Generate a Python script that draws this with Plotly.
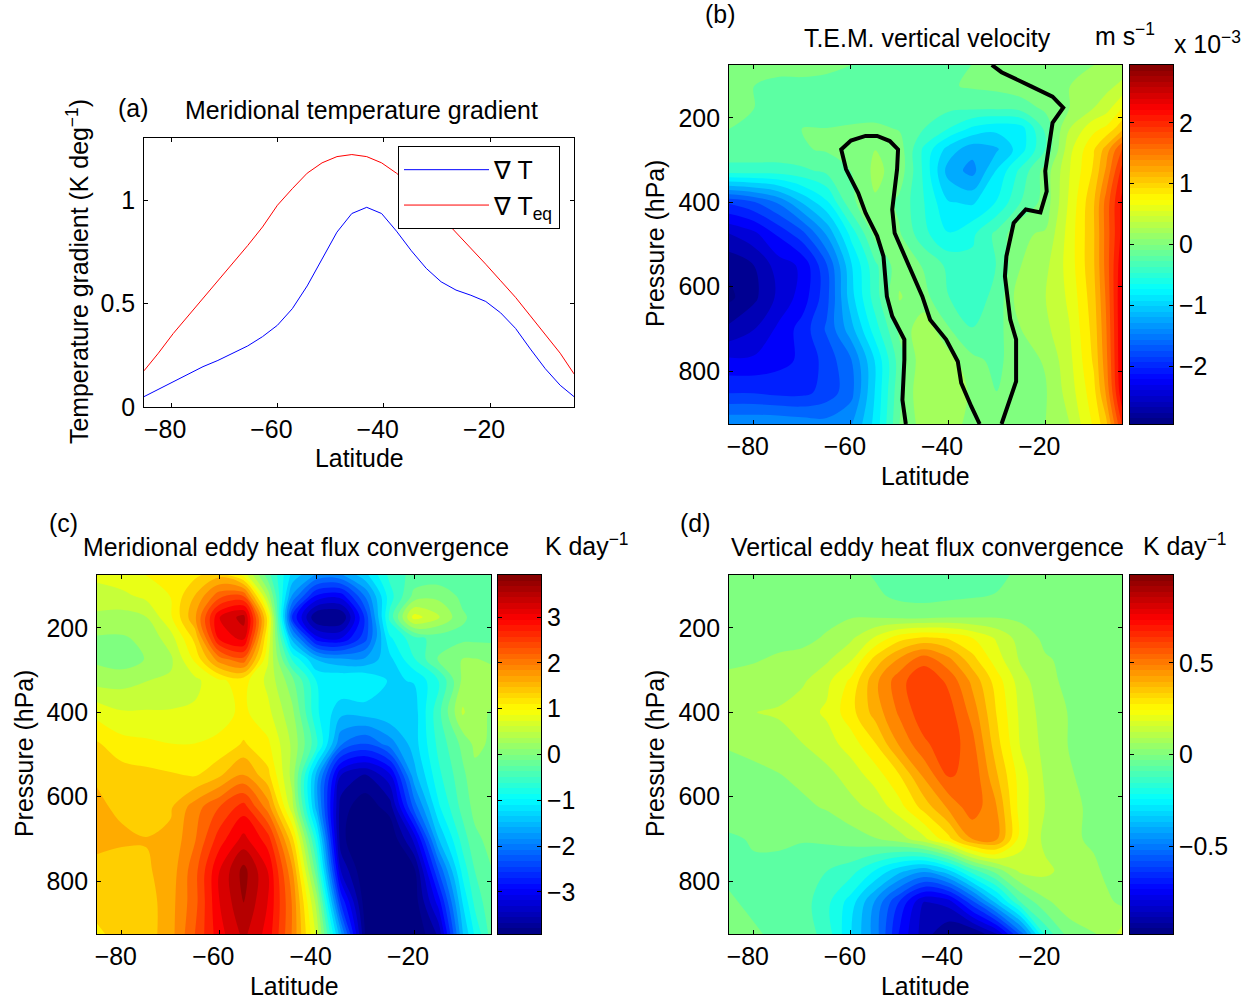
import plotly.graph_objects as go
import numpy as np

W, H = 1255, 1004
FONT = "Liberation Sans"
FS = 24.9

# ---------- panel (a) ----------
lat_a = [-85.1,-82.4,-79.6,-76.8,-74,-71.2,-68.4,-65.6,-62.8,-60,-57.2,-54.4,-51.6,-48.8,-46,-43.2,-40.4,-37.6,-34.8,-32,-29.2,-26.4,-23.6,-20.8,-18,-15.2,-12.4,-9.6,-6.8,-4.2]
grad_t = [.05,.085,.12,.16,.195,.225,.26,.295,.34,.395,.475,.585,.715,.845,.935,.965,.935,.85,.755,.67,.605,.565,.54,.51,.455,.38,.28,.185,.105,.05]
grad_teq = [.175,.26,.355,.44,.525,.61,.69,.78,.87,.975,1.055,1.13,1.18,1.21,1.22,1.21,1.18,1.13,1.07,.99,.92,.845,.77,.69,.61,.53,.44,.35,.26,.16]

# ---------- shared grid of the latitude-pressure panels ----------
lats = [-85.1,-80,-75,-70,-65,-60,-55,-50,-45,-40,-35,-30,-25,-20,-15,-10,-7.5,-4.2]
pres = [75,125,175,225,275,325,400,475,550,625,700,775,850,925]

# ---------- panel (b), 1e-3 m/s ----------
w_tem = [
[-.05,-.05,.03,.03,-.03,-.1,-.15,-.2,-.2,-.15,-.1,-.03,.04,.06,.08,.1,.15,.2],
[-.08,-.1,-.2,-.2,-.2,-.22,-.3,-.3,-.2,-.12,-.08,-.05,.01,.05,.1,.18,.25,.35],
[-.08,-.1,-.15,-.22,-.2,-.2,-.22,-.2,-.25,-.25,-.25,-.25,-.2,-.05,.1,.3,.4,.7],
[-.1,-.12,-.12,-.1,-.1,-.08,-.06,-.12,-.3,-.5,-.75,-.85,-.8,-.25,.3,.65,.75,1.05],
[-.15,-.15,-.15,-.12,-.08,.03,.1,.0,-.55,-1.0,-1.25,-1.15,-.8,-.3,.45,.9,1.2,1.75],
[-.4,-.4,-.4,-.35,-.25,-.1,.15,.02,-.55,-1.2,-1.4,-.9,-.45,-.02,.5,.95,1.35,2.0],
[-1.9,-1.75,-1.5,-1.1,-.75,-.15,.08,-.15,-.5,-.9,-.95,-.7,-.3,-.02,.55,1.1,1.6,2.2],
[-2.55,-2.4,-2.1,-1.8,-1.3,-.65,-.03,-.08,-.45,-.7,-.55,-.25,.08,.12,.6,1.1,1.6,2.2],
[-2.9,-2.75,-2.45,-2.3,-1.75,-.95,-.35,.03,-.12,-.35,-.45,-.3,.1,.25,.6,1.1,1.6,2.3],
[-3,-2.8,-2.5,-2.25,-1.8,-1.0,-.4,.12,-.03,-.3,-.4,-.25,.25,.3,.55,1.05,1.55,2.35],
[-2.7,-2.55,-2.3,-2.05,-1.7,-1.2,-.6,-.05,.25,-.08,-.3,-.18,.1,.25,.5,1.0,1.5,2.35],
[-2.3,-2.3,-2.2,-2.1,-1.85,-1.55,-.9,-.2,.25,.2,-.05,-.15,.02,.12,.45,.95,1.45,2.35],
[-1.95,-1.95,-2,-2,-1.85,-1.6,-.9,-.15,.3,.3,.05,-.1,.02,.08,.4,.85,1.35,2.3],
[-1.35,-1.35,-1.35,-1.4,-1.45,-1.35,-.85,-.1,.2,.2,.03,-.05,.05,.1,.3,.75,1.05,1.95],
]
# zero contour of w
zero_a_lat = [-48.7,-49.4,-49,-49,-51.5,-52.6,-53.3,-54.6,-57,-58.5,-61,-62,-60,-57,-54.6,-52,-50.3,-50.5,-51.5,-51,-48,-45.3,-43.7,-40.4,-38,-37.3,-35.2,-33.5]
zero_a_p = [925,868,773,725,670,623,528,480,425,378,322,275,254,243,243,255,275,322,417,473,552,623,678,725,777,828,884,925]
zero_b_lat = [-31,-29,-23,-18.5,-16.3,-18.5,-20,-19.7,-21,-24,-26.5,-28,-28.3,-27.2,-26,-26,-29]
zero_b_p = [75,92,125,150,176,212,326,374,424,417,449,528,575,678,725,824,925]

# ---------- panel (c), K/day ----------
merid = [
[.75,.85,.95,1.05,1.15,1.4,.85,-.3,-1.3,-1.8,-1.8,-1.3,-.6,-.3,-.3,-.3,-.25,-.2],
[.55,.6,.75,.95,1.5,2.2,2.3,.3,-1.8,-2.9,-3.0,-2.0,-.8,-.05,.05,-.2,-.2,-.2],
[.35,.3,.4,.9,1.7,3.1,3.5,1.1,-2.6,-3.95,-3.95,-2.5,-.6,.8,.45,-.1,-.2,-.2],
[.1,.1,.2,.55,1.3,2.9,3.2,.9,-1.6,-3.0,-3.1,-2.4,-1.0,-.5,-.3,-.2,-.2,-.2],
[.08,-.01,.15,.35,1.0,1.9,2.2,.7,-.7,-1.5,-1.7,-1.7,-1.3,-.7,-.1,.15,.15,.1],
[.3,.3,.4,.45,.6,.9,1.05,.6,-.05,-.95,-.95,-.95,-1.25,-1.2,-.7,.2,.4,.25],
[.85,.7,.7,.7,.72,.85,1.0,.75,.2,-.9,-1.4,-1.35,-1.25,-1.35,-.5,.45,.2,.12],
[1.25,1.05,1.0,.95,.95,1.0,1.25,1.0,.35,-.6,-2.0,-2.3,-1.9,-1.35,-.6,-.05,.2,.1],
[1.45,1.35,1.3,1.25,1.2,1.45,1.8,1.3,.3,-1.6,-3.4,-3.7,-3.2,-1.6,-.75,-.2,.05,.05],
[1.55,1.42,1.3,1.45,1.9,2.3,2.7,1.9,.5,-1.6,-3.8,-4.1,-3.8,-2.2,-1.0,-.3,-.05,0],
[1.55,1.55,1.5,1.55,2.0,2.7,3.2,2.7,1.3,-.85,-3.85,-4.2,-4.2,-3.3,-1.5,-.55,-.2,-.05],
[1.42,1.3,1.45,1.6,2.2,3.1,3.75,3.1,1.8,-.3,-3.4,-4.2,-4.3,-4,-2.3,-.85,-.4,-.15],
[1.25,1.25,1.35,1.65,2.2,3.1,3.65,3.1,2.0,.3,-2.6,-4.1,-4.3,-4.1,-3.0,-1.2,-.6,-.2],
[1.2,1.25,1.35,1.65,2.3,3.0,3.45,3.0,2.0,.6,-1.7,-3.95,-4.2,-4.2,-3.6,-1.5,-.9,-.3],
]

# ---------- panel (d), K/day ----------
vert = [
[0,0,0,0,0,-.01,-.04,-.06,-.08,-.06,-.05,-.05,-.02,0,0,0,0,0],
[0,0,0,0,0,.02,-.02,-.05,-.06,-.05,-.04,-.03,0,0,0,0,0,0],
[0,0,0,.01,.02,.03,.03,.02,.02,.03,.03,.03,.02,0,0,0,0,0],
[0,.01,.02,.02,.04,.09,.18,.28,.32,.3,.24,.16,.07,.02,.01,0,0,0],
[.02,.03,.04,.05,.09,.16,.33,.45,.55,.46,.33,.2,.09,.04,.02,.01,0,0],
[.05,.05,.06,.09,.15,.25,.42,.55,.63,.56,.42,.27,.13,.05,.02,.01,0,0],
[.08,.1,.11,.14,.18,.28,.4,.52,.62,.61,.48,.3,.15,.07,.03,.01,0,0],
[.04,.05,.07,.1,.14,.2,.3,.45,.56,.62,.53,.33,.16,.08,.03,.01,0,0],
[.01,.02,.03,.05,.08,.13,.2,.3,.45,.58,.56,.38,.2,.09,.04,.01,0,0],
[-.01,0,.01,.02,.04,.08,.12,.21,.33,.45,.55,.44,.2,.1,.05,.02,.01,0],
[-.04,-.03,-.03,-.03,-.02,0,.03,.07,.15,.28,.44,.45,.2,.08,.05,.02,.01,.01],
[-.04,-.04,-.04,-.06,-.1,-.14,-.24,-.35,-.42,-.32,-.13,0,.12,.12,.07,.05,.02,.01],
[-.03,-.04,-.05,-.07,-.15,-.27,-.45,-.65,-.85,-.82,-.6,-.35,-.1,.02,.07,.1,.05,.02],
[-.03,-.03,-.04,-.06,-.13,-.3,-.47,-.72,-.88,-.97,-.98,-.85,-.55,-.15,0,.03,.05,.13],
]

lat_ticks = [-80,-60,-40,-20]
p_ticks = [200,400,600,800]
JET = [[0,"rgb(0,0,128)"],[.125,"rgb(0,0,255)"],[.375,"rgb(0,255,255)"],[.625,"rgb(255,255,0)"],[.875,"rgb(255,0,0)"],[1,"rgb(128,0,0)"]]

fig = go.Figure()
layout = {}

def hx(x): return x / W
def hy(y): return 1 - y / H

def axes(n, box, xcfg, ycfg):
    l, t, r, b = box
    sfx = "" if n == 1 else str(n)
    common = dict(showline=True, linecolor="black", linewidth=1, mirror="allticks", ticks="inside",
                  ticklen=4, tickwidth=1, tickcolor="black", showgrid=False, zeroline=False, automargin=False,
                  tickfont=dict(family=FONT, size=FS, color="black"))
    layout["xaxis" + sfx] = {**common, "domain": [hx(l), hx(r)], "anchor": "y" + sfx, **xcfg}
    layout["yaxis" + sfx] = {**common, "domain": [hy(b), hy(t)], "anchor": "x" + sfx, **ycfg}

def lat_axis():
    return dict(range=[-85.1, -4.2], tickvals=lat_ticks, ticklabelstandoff=0, ticklabelshift=-6)

def field(n, z, zm, box, cbbox, cbt, cbtext):
    s = str(n)
    fig.add_trace(go.Contour(x=lats, y=pres, z=z, xaxis="x" + s, yaxis="y" + s, colorscale=JET,
                             autocontour=False, showscale=False, line=dict(width=0), zmin=-zm, zmax=zm,
                             contours=dict(start=-zm, end=zm, size=2 * zm / 29, coloring="fill", showlines=False)))
    axes(n, box, lat_axis(), dict(range=[925, 75], tickvals=p_ticks, ticklabelstandoff=3))
    m = n + 1
    levels = np.linspace(-zm, zm, 65)
    mids = (levels[:-1] + levels[1:]) / 2
    fig.add_trace(go.Heatmap(x=[0, 1], y=mids, z=[[v, v] for v in mids], xaxis="x" + str(m), yaxis="y" + str(m),
                             colorscale=JET, zmin=-zm, zmax=zm, showscale=False))
    axes(m, cbbox, dict(range=[0, 1], showticklabels=False, ticks=""),
         dict(range=[-zm, zm], side="right", tickvals=cbt, ticktext=cbtext, ticklen=4, ticklabelstandoff=0))

# panel (a)
fig.add_trace(go.Scatter(x=lat_a, y=grad_t, mode="lines", name="∇ T", line=dict(color="rgb(0,0,255)", width=1), xaxis="x", yaxis="y"))
fig.add_trace(go.Scatter(x=lat_a, y=grad_teq, mode="lines", name="∇ T<sub>eq</sub>", line=dict(color="rgb(255,0,0)", width=1), xaxis="x", yaxis="y"))
axes(1, (144, 138, 574, 407), lat_axis(), dict(range=[0, 1.3], tickvals=[0, .5, 1], ticktext=["0", "0.5", "1"], ticklabelstandoff=3))

# panels (b), (c), (d)
field(2, w_tem, 2.95, (729, 65, 1122, 424), (1130, 65, 1173, 424), [-2,-1,0,1,2], ["\u22122","\u22121","0","1","2"])
for la, pa in ((zero_a_lat, zero_a_p), (zero_b_lat, zero_b_p)):
    fig.add_trace(go.Scatter(x=la, y=pa, mode="lines", line=dict(color="black", width=4), xaxis="x2", yaxis="y2", showlegend=False))
field(4, merid, 3.92, (97, 575, 491, 934), (498, 575, 541, 934), [-3,-2,-1,0,1,2,3], ["\u22123","\u22122","\u22121","0","1","2","3"])
field(6, vert, .98, (729, 575, 1122, 934), (1130, 575, 1173, 934), [-.5,0,.5], ["\u22120.5","0","0.5"])

def label(text, x, y, angle=0, anchor="center"):
    layout.setdefault("annotations", []).append(dict(text=text, x=hx(x), y=hy(y), xref="paper", yref="paper",
        showarrow=False, textangle=angle, xanchor=anchor, yanchor="middle", align="center",
        font=dict(family=FONT, size=FS, color="black")))

SUP = "<sup>\u22121</sup>"
label("(a)", 133, 108)
label("Meridional temperature gradient", 361, 110)
label("Temperature gradient (K deg" + SUP + ")", 77, 272, angle=-90)
label("Latitude", 359, 458)

label("(b)", 720, 14)
label("T.E.M. vertical velocity", 927, 38)
label("m s" + SUP, 1093, 35, anchor="left")
label("x 10<sup>\u22123</sup>", 1172, 43, anchor="left")
label("Pressure (hPa)", 655, 244, angle=-90)
label("Latitude", 925, 476)

label("(c)", 63, 523)
label("Meridional eddy heat flux convergence", 296, 547)
label("K day" + SUP, 543, 544, anchor="left")
label("Pressure (hPa)", 24, 754, angle=-90)
label("Latitude", 294, 986)

label("(d)", 695, 523)
label("Vertical eddy heat flux convergence", 927, 547)
label("K day" + SUP, 1141, 544, anchor="left")
label("Pressure (hPa)", 655, 754, angle=-90)
label("Latitude", 925, 986)

fig.update_layout(
    template=None,
    width=W, height=H, margin=dict(l=0, r=0, t=0, b=0, pad=0), paper_bgcolor="white", plot_bgcolor="white",
    font=dict(family=FONT, size=FS, color="black"),
    legend=dict(x=hx(398), y=hy(146), xanchor="left", yanchor="top", bgcolor="white", bordercolor="black",
                borderwidth=1, itemwidth=85, entrywidth=136, entrywidthmode="pixels", font=dict(family=FONT, size=FS)),
    **layout)
fig.write_html("out.html", default_width=W, default_height=H, config=dict(displayModeBar=False),
               post_script="document.body.style.margin='0';document.documentElement.style.overflow='hidden';")
